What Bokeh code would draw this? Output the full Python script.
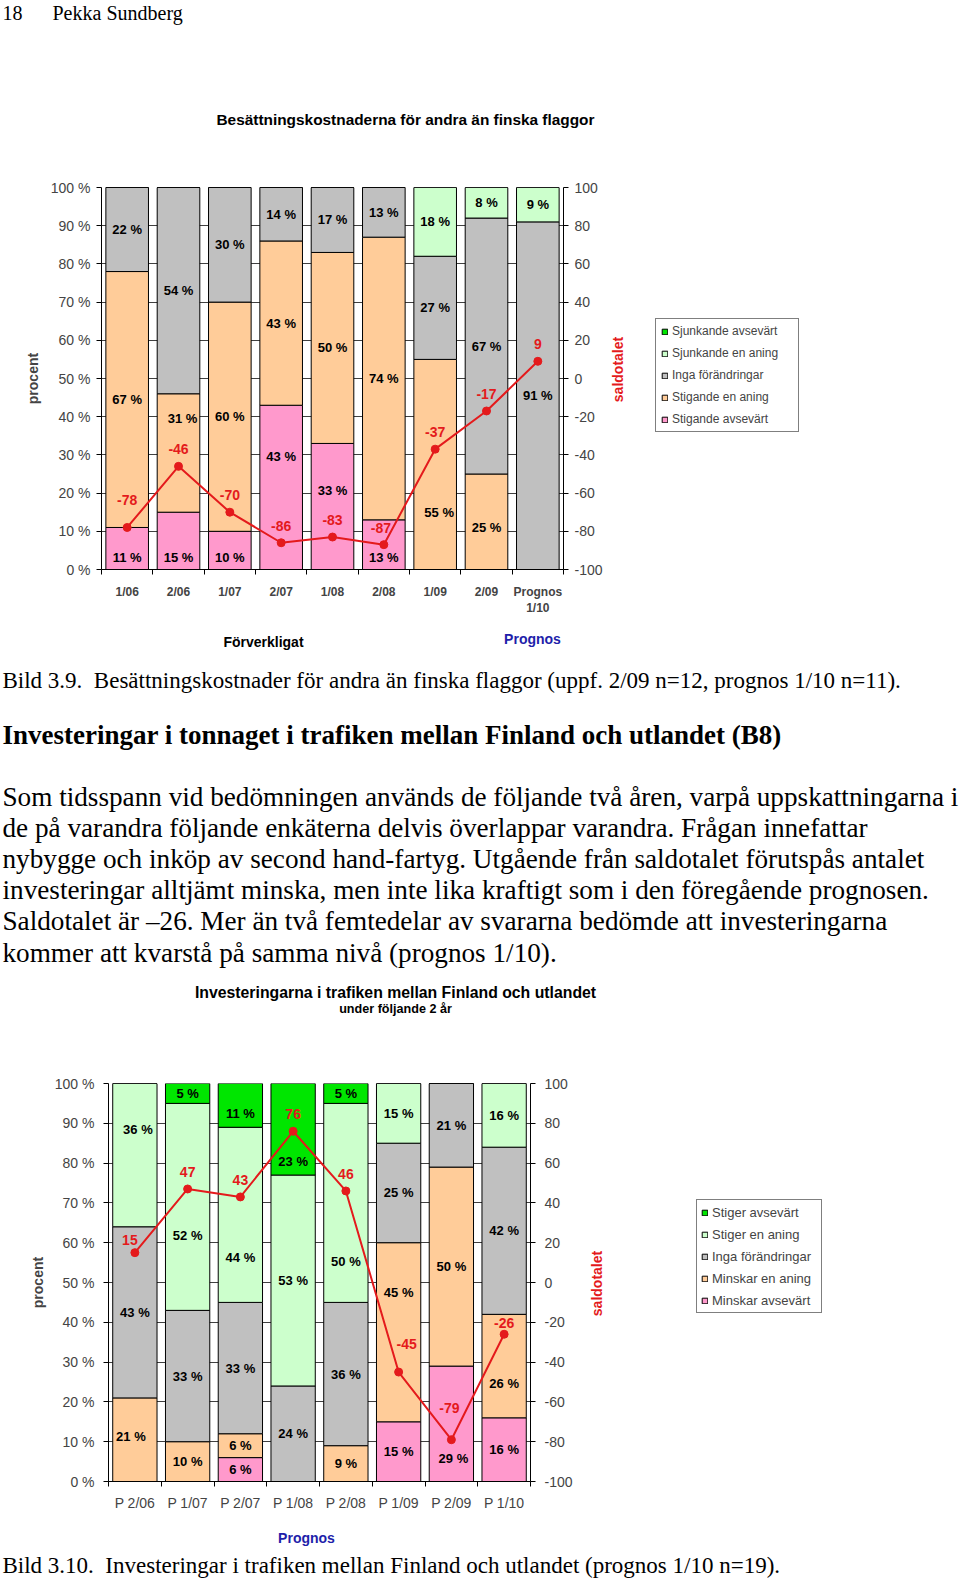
from bokeh.plotting import figure
from bokeh.models import (ColumnDataSource, Range1d, LinearAxis, FixedTicker, Label,
                          Legend, LegendItem)
from bokeh.layouts import row
from bokeh.embed import file_html
from bokeh.resources import INLINE
from bokeh.core.properties import value

# ---------------- data: chart 1 ----------------
cats1 = ["1/06", "2/06", "1/07", "2/07", "1/08", "2/08", "1/09", "2/09", "Prognos\n1/10"]
stigande_avsevart = [11, 15, 10, 43, 33, 13, 0, 0, 0]
stigande_en_aning = [67, 31, 60, 43, 50, 74, 55, 25, 0]
inga_forandringar1 = [22, 54, 30, 14, 17, 13, 27, 67, 91]
sjunkande_en_aning = [0, 0, 0, 0, 0, 0, 18, 8, 9]
sjunkande_avsevart = [0, 0, 0, 0, 0, 0, 0, 0, 0]
saldo1 = [-78, -46, -70, -86, -83, -87, -37, -17, 9]
names1 = ["Stigande avsevärt", "Stigande en aning", "Inga förändringar",
          "Sjunkande en aning", "Sjunkande avsevärt"]

# ---------------- data: chart 2 ----------------
cats2 = ["P 2/06", "P 1/07", "P 2/07", "P 1/08", "P 2/08", "P 1/09", "P 2/09", "P 1/10"]
minskar_avsevart = [0, 0, 6, 0, 0, 15, 29, 16]
minskar_en_aning = [21, 10, 6, 0, 9, 45, 50, 26]
inga_forandringar2 = [43, 33, 33, 24, 36, 25, 21, 42]
stiger_en_aning = [36, 52, 44, 53, 50, 15, 0, 16]
stiger_avsevart = [0, 5, 11, 23, 5, 0, 0, 0]
saldo2 = [15, 47, 43, 76, 46, -45, -79, -26]
names2 = ["Minskar avsevärt", "Minskar en aning", "Inga förändringar",
          "Stiger en aning", "Stiger avsevärt"]

pct_ticks = [0, 10, 20, 30, 40, 50, 60, 70, 80, 90, 100]
saldo_ticks = [-100, -80, -60, -40, -20, 0, 20, 40, 60, 80, 100]

paragraph = [
    "Som tidsspann vid bedömningen används de följande två åren, varpå uppskattningarna i",
    "de på varandra följande enkäterna delvis överlappar varandra. Frågan innefattar",
    "nybygge och inköp av second hand-fartyg. Utgående från saldotalet förutspås antalet",
    "investeringar alltjämt minska, men inte lika kraftigt som i den föregående prognosen.",
    "Saldotalet är –26. Mer än två femtedelar av svararna bedömde att investeringarna",
    "kommer att kvarstå på samma nivå (prognos 1/10).",
]

# ---------------- style ----------------
FONT = "Liberation Sans"
SERIF = "Liberation Serif"
PINK, PEACH, GREY, LGREEN, GREEN = "#FF99CC", "#FFCC99", "#C0C0C0", "#CCFFCC", "#00E600"
COLORS = [PINK, PEACH, GREY, LGREEN, GREEN]
RED = "#E41A1C"
BLUE = "#1E1EAA"
W = 960

# label nudges (dx px, dy in %), keyed by (category, series)
seg_off1 = {(0, 0): (0, -2.3), (1, 0): (0, -4.3), (2, 0): (0, -1.8), (5, 0): (0, -3.3),
            (1, 1): (4, 9), (3, 0): (0, 8), (4, 0): (0, 4.2), (6, 1): (4, -12.5), (7, 1): (0, -1.5)}
sal_off1 = {0: (0, 27), 5: (-3, 17)}
seg_off2 = {(0, 3): (3, 6.5), (0, 1): (-4, 0.7), (1, 3): (0, -7.3), (2, 4): (0, -2),
            (2, 3): (0, -10.7), (3, 4): (0, -8), (4, 3): (0, -14.6), (5, 1): (0, 10),
            (6, 0): (2, -8.6), (7, 1): (0, -4.5)}
sal_off2 = {0: (-5, 13), 5: (8, 28), 6: (-2, 32), 7: (0, 11)}


def chart(cats, series, saldo, *, width, height, left, top, fw, fh, bar_w,
          cat_size, cat_style, cat_standoff, ylab_standoff, yax_standoff, rlab_standoff,
          seg_off, sal_off):
    n = len(cats)
    p = figure(width=width, height=height, x_range=Range1d(-0.5, n - 0.5), y_range=Range1d(0, 100),
               output_backend="svg", toolbar_location=None, title=None,
               min_border_left=left, min_border_right=width - left - fw,
               min_border_top=top, min_border_bottom=height - top - fh)
    p.outline_line_color = None
    p.extra_y_ranges = {"saldo": Range1d(-100, 100)}

    keys = ["s0", "s1", "s2", "s3", "s4"]
    data = {"x": list(range(n))}
    for k, s in zip(keys, series):
        data[k] = s
    src = ColumnDataSource(data)
    p.vbar_stack(keys, x="x", width=bar_w, source=src, fill_color=COLORS,
                 line_color="black", line_width=1)

    p.xgrid.visible = False
    p.ygrid.ticker = FixedTicker(ticks=pct_ticks)
    p.ygrid.grid_line_color = "#404040"
    p.ygrid.grid_line_width = 1

    ya = p.yaxis[0]
    ya.ticker = FixedTicker(ticks=pct_ticks)
    ya.major_label_overrides = {t: f"{t} %" for t in pct_ticks}
    ya.major_tick_out = 5
    ya.major_tick_in = 0
    ya.minor_tick_out = 0
    ya.minor_tick_in = 0
    ya.major_label_standoff = ylab_standoff
    ya.major_label_text_font = FONT
    ya.major_label_text_font_size = "14px"
    ya.axis_line_color = "black"
    ya.axis_label = "procent"
    ya.axis_label_text_font = FONT
    ya.axis_label_text_font_size = "14px"
    ya.axis_label_text_font_style = "bold"
    ya.axis_label_standoff = yax_standoff

    ra = LinearAxis(y_range_name="saldo", ticker=FixedTicker(ticks=saldo_ticks))
    ra.major_label_overrides = {t: str(t) for t in saldo_ticks}
    ra.major_tick_out = 5
    ra.major_tick_in = 0
    ra.minor_tick_out = 0
    ra.minor_tick_in = 0
    ra.major_label_standoff = rlab_standoff
    ra.major_label_text_font = FONT
    ra.major_label_text_font_size = "14px"
    ra.axis_line_color = "black"
    p.add_layout(ra, "right")

    xa = p.xaxis[0]
    xa.ticker = FixedTicker(ticks=list(range(n)), minor_ticks=[i - 0.5 for i in range(n + 1)])
    xa.major_label_overrides = {i: c for i, c in enumerate(cats)}
    xa.major_tick_out = 0
    xa.major_tick_in = 0
    xa.minor_tick_out = 5
    xa.minor_tick_in = 0
    xa.minor_tick_line_color = "black"
    xa.major_label_standoff = cat_standoff
    xa.major_label_text_font = FONT
    xa.major_label_text_font_size = f"{cat_size}px"
    xa.major_label_text_font_style = cat_style
    xa.axis_line_color = "black"

    lx, ly, lt, ldx = [], [], [], []
    for i in range(n):
        base = 0
        for si, s in enumerate(series):
            v = s[i]
            if v > 0:
                dx, dy = seg_off.get((i, si), (0, 0))
                lx.append(i)
                ly.append(base + v / 2 + dy)
                lt.append(f"{v} %")
                ldx.append(dx)
            base += v
    p.text(x="x", y="y", text="t", x_offset="dx",
           source=ColumnDataSource(dict(x=lx, y=ly, t=lt, dx=ldx)),
           text_align="center", text_baseline="middle", text_font=value(FONT),
           text_font_size="13px", text_font_style="bold", text_color="black")

    ssrc = ColumnDataSource(dict(
        x=list(range(n)), s=saldo, t=[str(v) for v in saldo],
        dx=[sal_off.get(i, (0, 17))[0] for i in range(n)],
        dy=[-sal_off.get(i, (0, 17))[1] for i in range(n)]))
    p.line(x="x", y="s", source=ssrc, y_range_name="saldo", line_color=RED, line_width=2)
    p.scatter(x="x", y="s", source=ssrc, y_range_name="saldo", size=8,
              fill_color=RED, line_color=RED)
    p.text(x="x", y="s", text="t", x_offset="dx", y_offset="dy", source=ssrc,
           y_range_name="saldo", text_align="center", text_baseline="middle",
           text_font=value(FONT), text_font_size="14px", text_font_style="bold", text_color=RED)
    return p


def side_fig(x0, width, height, top, bottom, frame_top, frame_bottom, names, loc,
             sald_xy, size, label_h, pad, spacing, lw):
    lf = figure(width=width, height=height, x_range=Range1d(x0, x0 + width),
                y_range=Range1d(frame_bottom, frame_top),
                x_axis_type=None, y_axis_type=None, output_backend="svg",
                toolbar_location=None, title=None,
                min_border_left=0, min_border_right=0,
                min_border_top=top, min_border_bottom=bottom)
    lf.outline_line_color = None
    # legend-only renderers (their single bar lies outside the visible range)
    rs = [lf.vbar(x=[x0 + width + 1000], top=[frame_top - 20], bottom=[frame_top - 10], width=1,
                  fill_color=c, line_color="black") for c in COLORS]
    items = [LegendItem(label=names[k], renderers=[rs[k]]) for k in range(4, -1, -1)]
    leg = Legend(items=items, location=loc, orientation="vertical",
                 border_line_color="black", border_line_width=1,
                 background_fill_color="white", background_fill_alpha=1.0,
                 padding=pad, spacing=spacing, margin=0,
                 label_height=label_h, label_width=lw,
                 glyph_height=7, glyph_width=7, label_standoff=4,
                 label_text_font=FONT, label_text_font_size=f"{size}px",
                 label_text_baseline="middle")
    lf.add_layout(leg)
    lf.add_layout(Label(x=sald_xy[0], y=sald_xy[1], text="saldotalet", text_font=FONT,
                        text_font_size="14px", text_font_style="bold", text_color=RED,
                        text_align="center", text_baseline="middle", angle=90,
                        angle_units="deg"))
    return lf


def text_fig(y0, height, items):
    tf = figure(width=W, height=height, x_range=Range1d(0, W), y_range=Range1d(y0 + height, y0),
                x_axis_type=None, y_axis_type=None, output_backend="svg",
                toolbar_location=None, title=None, min_border=0,
                min_border_left=0, min_border_right=0, min_border_top=0, min_border_bottom=0)
    tf.outline_line_color = None
    for (x, y, text, size, font, style, color, align) in items:
        tf.add_layout(Label(x=x, y=y, text=text, text_font=font, text_font_size=f"{size}px",
                            text_font_style=style, text_color=color, text_align=align,
                            text_baseline="middle"))
    return tf


# ---------- block 1: header (page y 0..150) ----------
t1 = text_fig(0, 150, [
    (2, 12, "18", 20, SERIF, "normal", "black", "left"),
    (52, 12, "Pekka Sundberg", 20, SERIF, "normal", "black", "left"),
    (405, 119, "Besättningskostnaderna för andra än finska flaggor", 15.4, FONT, "bold", "black", "center"),
])

# ---------- block 2: chart 1 (page y 150..625) ----------
c1 = chart(cats1, [stigande_avsevart, stigande_en_aning, inga_forandringar1,
                   sjunkande_en_aning, sjunkande_avsevart], saldo1,
           width=605, height=475, left=101, top=37, fw=464, fh=382, bar_w=0.83,
           cat_size=12, cat_style="bold", cat_standoff=10, ylab_standoff=6,
           yax_standoff=7, rlab_standoff=6, seg_off=seg_off1, sal_off=sal_off1)
s1 = side_fig(605, 355, 475, 37, 56, 187, 569, names1, (655 - 605, 569 - 432), (617, 369),
              12, 14, 5, 8, 121)

# ---------- block 3: texts (page y 625..1040) ----------
items3 = [
    (263, 641, "Förverkligat", 14, FONT, "bold", "black", "center"),
    (532, 638, "Prognos", 14, FONT, "bold", BLUE, "center"),
    (2, 680, "Bild 3.9.\u00a0 Besättningskostnader för andra än finska flaggor (uppf. 2/09 n=12, prognos 1/10 n=11).",
     23, SERIF, "normal", "black", "left"),
    (2, 734, "Investeringar i tonnaget i trafiken mellan Finland och utlandet (B8)",
     27, SERIF, "bold", "black", "left"),
]
for k, line in enumerate(paragraph):
    items3.append((2, 796 + 31.2 * k, line, 27.2, SERIF, "normal", "black", "left"))
items3.append((395, 992, "Investeringarna i trafiken mellan Finland och utlandet", 15.8, FONT,
               "bold", "black", "center"))
items3.append((395, 1008, "under följande 2 år", 12.6, FONT, "bold", "black", "center"))
t3 = text_fig(625, 415, items3)

# ---------- block 4: chart 2 (page y 1040..1520) ----------
c2 = chart(cats2, [minskar_avsevart, minskar_en_aning, inga_forandringar2,
                   stiger_en_aning, stiger_avsevart], saldo2,
           width=575, height=480, left=108, top=43, fw=424, fh=398, bar_w=0.84,
           cat_size=14, cat_style="normal", cat_standoff=8, ylab_standoff=9,
           yax_standoff=6, rlab_standoff=9, seg_off=seg_off2, sal_off=sal_off2)
s2 = side_fig(575, 385, 480, 43, 39, 1083, 1481, names2, (696 - 575, 1481 - 1313), (596, 1283),
              13, 16, 4, 6, 105)

# ---------- block 5: texts (page y 1520..1580) ----------
t5 = text_fig(1520, 60, [
    (306, 1537, "Prognos", 14, FONT, "bold", BLUE, "center"),
    (2, 1565, "Bild 3.10.\u00a0 Investeringar i trafiken mellan Finland och utlandet (prognos 1/10 n=19).",
     23, SERIF, "normal", "black", "left"),
])

roots = [t1, row(c1, s1, spacing=0), t3, row(c2, s2, spacing=0), t5]
open("out.html", "w").write(file_html(roots, INLINE))
